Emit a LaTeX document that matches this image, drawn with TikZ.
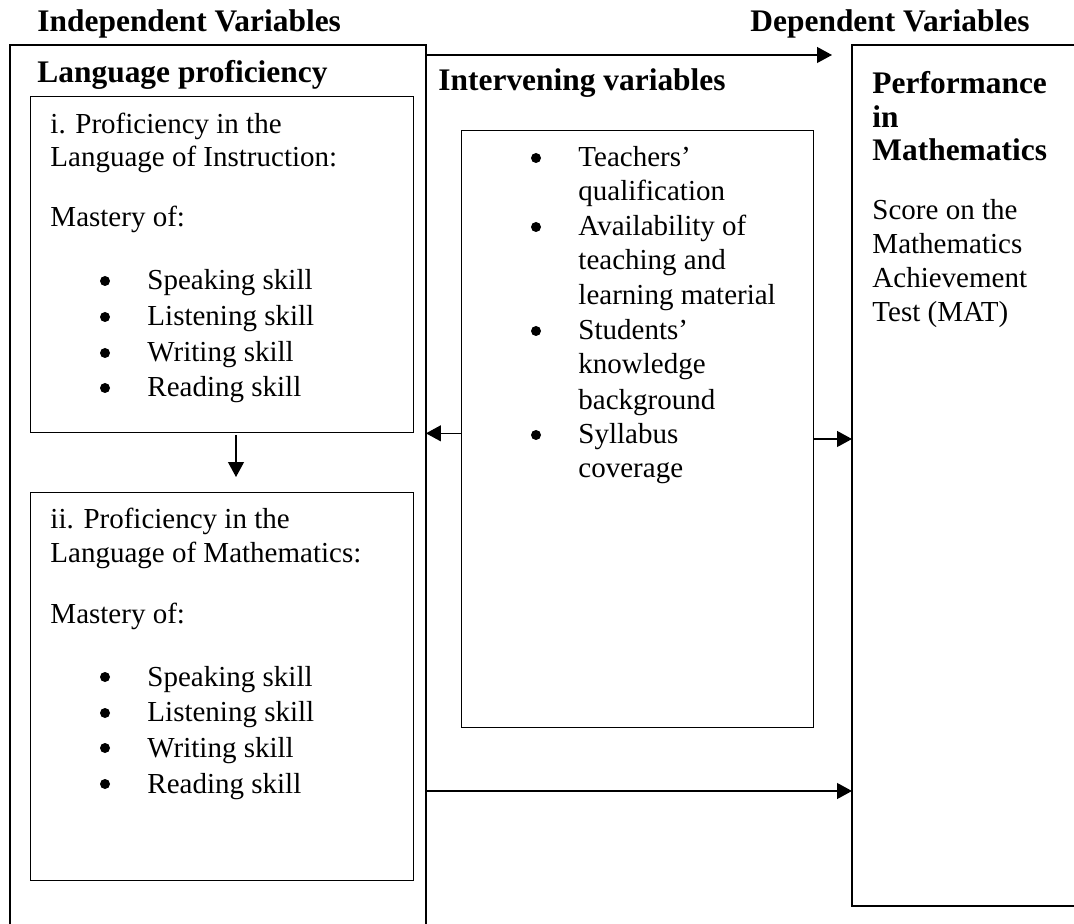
\documentclass[tikz,border=0pt]{standalone}
\usepackage{fontspec}
\setmainfont{Liberation Serif}
\usetikzlibrary{arrows.meta}
\begin{document}
\begin{tikzpicture}[x=0.41379pt,y=-0.41379pt,
  box/.style={draw, line width=0.55pt, rectangle, inner sep=0pt, anchor=north west},
  frame/.style={rectangle, inner sep=0pt, anchor=north west},
  edge/.style={line width=0.55pt},
  lbl/.style={inner sep=0pt, anchor=base west, font=\fontsize{12}{14}\selectfont},
  hd/.style={inner sep=0pt, anchor=base west, font=\fontsize{13}{15}\selectfont\bfseries},
  dot/.style={circle, fill=black, inner sep=0pt, minimum size={10*0.41379pt}},
  arr/.style={-{Triangle[length=6.2pt,width=6.6pt]}, line width=0.55pt}]
\useasboundingbox (0,0) rectangle (1074,924);

% open frames
\node[frame, minimum width={415*0.41379pt}, minimum height={879*0.41379pt}] (lang) at (10,45) {};
\node[frame, minimum width={222*0.41379pt}, minimum height={860*0.41379pt}] (perf) at (852,45) {};
\draw[edge] (lang.south west) -- (lang.north west) -- (lang.north east) -- (lang.south east);
\draw[edge] (perf.north east) -- (perf.north west) -- (perf.south west) -- (perf.south east);

% inner boxes
\node[box, minimum width={383*0.41379pt}, minimum height={336*0.41379pt}] (box1) at (30,96) {};
\node[box, minimum width={383*0.41379pt}, minimum height={388*0.41379pt}] (box2) at (30,492) {};
\node[box, minimum width={352*0.41379pt}, minimum height={597*0.41379pt}] (interv) at (461,130) {};

% headings
\node[hd] (hind) at (37,32) {Independent Variables};
\node[hd] (hdep) at (750,32) {Dependent Variables};
\node[hd] (hlang) at (37,83) {Language proficiency};
\node[hd] (hint) at (438,91) {Intervening variables};
\node[hd] (hp1) at (872,94) {Performance};
\node[hd] (hp2) at (872,128) {in};
\node[hd] (hp3) at (872,161) {Mathematics};

% right box text
\node[lbl] (r1) at (872,220) {Score on the};
\node[lbl] (r2) at (872,254) {Mathematics};
\node[lbl] (r3) at (872,288) {Achievement};
\node[lbl] (r4) at (872,322) {Test (MAT)};

% box 1 text
\node[lbl] (a1) at (50,134) {i. Proficiency in the};
\node[lbl] (a2) at (50,167) {Language of Instruction:};
\node[lbl] (a3) at (50,227) {Mastery of:};
\node[dot] (ab1) at (105,281) {};
\node[lbl] (a4) at (147,290) {Speaking skill};
\node[dot] (ab2) at (105,317) {};
\node[lbl] (a5) at (147,326) {Listening skill};
\node[dot] (ab3) at (105,353) {};
\node[lbl] (a6) at (147,362) {Writing skill};
\node[dot] (ab4) at (105,388) {};
\node[lbl] (a7) at (147,397) {Reading skill};

% box 2 text
\node[lbl] (b1) at (50,529) {ii. Proficiency in the};
\node[lbl] (b2) at (50,563) {Language of Mathematics:};
\node[lbl] (b3) at (50,623) {Mastery of:};
\node[dot] (bb1) at (105,677) {};
\node[lbl] (b4) at (147,686) {Speaking skill};
\node[dot] (bb2) at (105,713) {};
\node[lbl] (b5) at (147,722) {Listening skill};
\node[dot] (bb3) at (105,748) {};
\node[lbl] (b6) at (147,757) {Writing skill};
\node[dot] (bb4) at (105,784) {};
\node[lbl] (b7) at (147,793) {Reading skill};

% intervening text
\node[dot] (ib1) at (536,158) {};
\node[lbl] (i1) at (578,167) {Teachers’};
\node[lbl] (i2) at (578,201) {qualification};
\node[dot] (ib2) at (536,227) {};
\node[lbl] (i3) at (578,236) {Availability of};
\node[lbl] (i4) at (578,270) {teaching and};
\node[lbl] (i5) at (578,305) {learning material};
\node[dot] (ib3) at (536,331) {};
\node[lbl] (i6) at (578,340) {Students’};
\node[lbl] (i7) at (578,374) {knowledge};
\node[lbl] (i8) at (578,410) {background};
\node[dot] (ib4) at (536,435) {};
\node[lbl] (i9) at (578,444) {Syllabus};
\node[lbl] (i10) at (578,478) {coverage};

% connectors
\coordinate (topend) at (832,55);
\coordinate (rmid) at (0,439);
\coordinate (rbot) at (0,791);
\coordinate (dtop) at (236,435);
\coordinate (dend) at (236,477);
\draw[arr] (lang.north east |- topend) -- (topend);
\draw[arr] (interv.west |- box1.south) -- (lang.east |- box1.south);
\draw[arr] (interv.east |- rmid) -- (perf.west |- rmid);
\draw[arr] (lang.east |- rbot) -- (perf.west |- rbot);
\draw[arr] (dtop) -- (dend);
\end{tikzpicture}
\end{document}
